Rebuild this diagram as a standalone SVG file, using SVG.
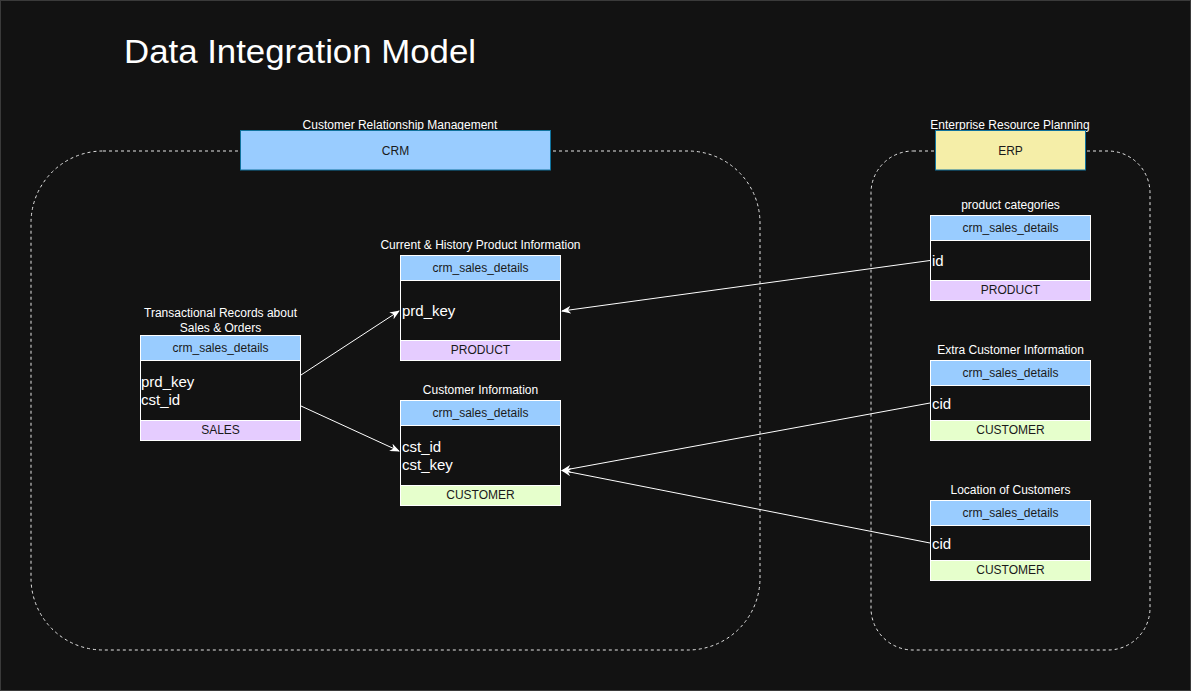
<svg xmlns="http://www.w3.org/2000/svg" width="1191" height="691" viewBox="0 0 1191 691">
<style>
text{font-family:"Liberation Sans",Arial,Helvetica,sans-serif}
.lbl{font-size:12px;fill:#ffffff;text-anchor:middle}
.hd{fill:#99ccff;stroke:#ffffff;stroke-width:1}
.bd{fill:#121212;stroke:#ffffff;stroke-width:1}
.fp{fill:#e5ccff;stroke:#ffffff;stroke-width:1}
.fg{fill:#e6ffcc;stroke:#ffffff;stroke-width:1}
.ht{font-size:12px;fill:#1a1a1a;text-anchor:middle}
.fld{font-size:15px;fill:#ffffff}
.cont{fill:none;stroke:#e6e6e6;stroke-width:1;stroke-dasharray:3 3}
.edge{fill:none;stroke:#ffffff;stroke-width:1}
</style>
<defs>
<marker id="arr" markerWidth="10" markerHeight="8" refX="9" refY="4" orient="auto" markerUnits="userSpaceOnUse">
<path d="M0,0 L10,4 L0,8 L3,4 Z" fill="#ffffff"/>
</marker>
</defs>
<rect x="0.5" y="0.5" width="1190" height="690" fill="#121212" stroke="#3a3a3a"/>
<text x="124" y="63" font-size="33" fill="#ffffff" textLength="352" lengthAdjust="spacingAndGlyphs">Data Integration Model</text>

<g id="crm-container">
<rect class="cont" x="31" y="151" width="729" height="499" rx="72" ry="72"/>
</g>
<g id="erp-container">
<rect class="cont" x="871" y="151" width="279" height="499" rx="42" ry="42"/>
</g>

<g id="crm-header">
<text class="lbl" x="400" y="129">Customer Relationship Management</text>
<rect x="240.5" y="130.5" width="310" height="39.5" fill="#99ccff" stroke="#10739e"/>
<text class="ht" x="395.5" y="155">CRM</text>
</g>
<g id="erp-header">
<text class="lbl" x="1010" y="129">Enterprise Resource Planning</text>
<rect x="935.5" y="130.5" width="150" height="39.5" fill="#f5eea8" stroke="#10739e"/>
<text class="ht" x="1010.5" y="155">ERP</text>
</g>

<g id="sales">
<text class="lbl" x="220.5" y="317">Transactional Records about</text>
<text class="lbl" x="220.5" y="332">Sales &amp; Orders</text>
<rect class="bd" x="140.5" y="360.5" width="160" height="60"/>
<rect class="hd" x="140.5" y="335.5" width="160" height="25"/>
<rect class="fp" x="140.5" y="420.5" width="160" height="20"/>
<text class="ht" x="220.5" y="352">crm_sales_details</text>
<text class="fld" x="141" y="387">prd_key</text>
<text class="fld" x="141" y="405">cst_id</text>
<text class="ht" x="220.5" y="434">SALES</text>
</g>

<g id="product">
<text class="lbl" x="480.5" y="249">Current &amp; History Product Information</text>
<rect class="bd" x="400.5" y="280.5" width="160" height="60"/>
<rect class="hd" x="400.5" y="255.5" width="160" height="25"/>
<rect class="fp" x="400.5" y="340.5" width="160" height="20"/>
<text class="ht" x="480.5" y="272">crm_sales_details</text>
<text class="fld" x="402" y="316">prd_key</text>
<text class="ht" x="480.5" y="354">PRODUCT</text>
</g>

<g id="customer">
<text class="lbl" x="480.5" y="394">Customer Information</text>
<rect class="bd" x="400.5" y="425.5" width="160" height="60"/>
<rect class="hd" x="400.5" y="400.5" width="160" height="25"/>
<rect class="fg" x="400.5" y="485.5" width="160" height="20"/>
<text class="ht" x="480.5" y="417">crm_sales_details</text>
<text class="fld" x="402" y="452">cst_id</text>
<text class="fld" x="402" y="470">cst_key</text>
<text class="ht" x="480.5" y="499">CUSTOMER</text>
</g>

<g id="product-categories">
<text class="lbl" x="1010.5" y="209">product categories</text>
<rect class="bd" x="930.5" y="240.5" width="160" height="40"/>
<rect class="hd" x="930.5" y="215.5" width="160" height="25"/>
<rect class="fp" x="930.5" y="280.5" width="160" height="20"/>
<text class="ht" x="1010.5" y="232">crm_sales_details</text>
<text class="fld" x="932" y="266">id</text>
<text class="ht" x="1010.5" y="294">PRODUCT</text>
</g>

<g id="extra-customer">
<text class="lbl" x="1010.5" y="354">Extra Customer Information</text>
<rect class="bd" x="930.5" y="385.5" width="160" height="35"/>
<rect class="hd" x="930.5" y="360.5" width="160" height="25"/>
<rect class="fg" x="930.5" y="420.5" width="160" height="20"/>
<text class="ht" x="1010.5" y="377">crm_sales_details</text>
<text class="fld" x="932" y="409">cid</text>
<text class="ht" x="1010.5" y="434">CUSTOMER</text>
</g>

<g id="customer-location">
<text class="lbl" x="1010.5" y="494">Location of Customers</text>
<rect class="bd" x="930.5" y="525.5" width="160" height="35"/>
<rect class="hd" x="930.5" y="500.5" width="160" height="25"/>
<rect class="fg" x="930.5" y="560.5" width="160" height="20"/>
<text class="ht" x="1010.5" y="517">crm_sales_details</text>
<text class="fld" x="932" y="549">cid</text>
<text class="ht" x="1010.5" y="574">CUSTOMER</text>
</g>

<g id="connectors">
<line class="edge" x1="301" y1="375" x2="399" y2="311" marker-end="url(#arr)"/>
<line class="edge" x1="301" y1="406" x2="399" y2="451" marker-end="url(#arr)"/>
<line class="edge" x1="930" y1="260.5" x2="562" y2="311" marker-end="url(#arr)"/>
<line class="edge" x1="930" y1="403" x2="562" y2="470.5" marker-end="url(#arr)"/>
<line class="edge" x1="930" y1="543" x2="562" y2="470.5" marker-end="url(#arr)"/>
</g>
</svg>
